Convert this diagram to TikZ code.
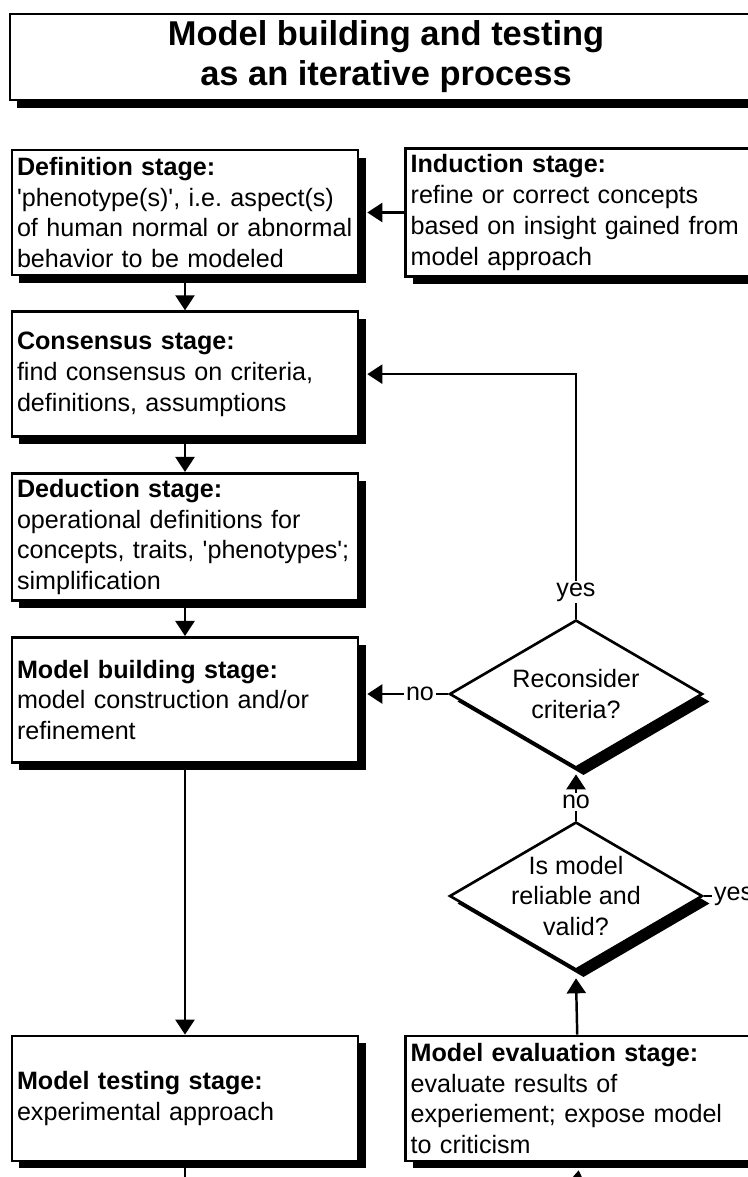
\documentclass[tikz,border=0pt]{standalone}
\usepackage{fontspec}
\setmainfont{Liberation Sans}
\usepackage{tikz}
\usetikzlibrary{arrows.meta,positioning,shapes.geometric,shadows}

\newcommand{\bodyfont}{\fontsize{14.3}{17.5}\selectfont}
\frenchspacing

\begin{document}
\begin{tikzpicture}[
    node distance=0.68cm and 0.9cm,
    castshadow/.style={drop shadow={shadow xshift=0.15cm, shadow yshift=-0.15cm, fill=black, opacity=1}},
    titlebox/.style={rectangle, draw=black, line width=1.5pt, fill=white, castshadow,
                minimum width=15.04cm, minimum height=1.72cm, align=center,
                font=\fontsize{19.6}{22.8}\selectfont\bfseries},
    stagebox/.style={rectangle, draw=black, line width=1.5pt, fill=white, castshadow,
                text width=6.72cm, inner xsep=0.1cm, align=left, minimum height=2.5cm, font=\bodyfont},
    question/.style={diamond, draw=black, line width=1.5pt, fill=white, castshadow, aspect=1.71,
                minimum width=5.06cm, minimum height=2.96cm, inner sep=-0.12cm, align=center, font=\bodyfont},
    answer/.style={inner sep=1pt, font=\bodyfont},
    link/.style={line width=1.4pt},
    arr/.style={-{Triangle[length=0.3cm, width=0.38cm]}, line width=1.4pt}]
\useasboundingbox (0,0) rectangle (14.94,-23.54);
\node[titlebox] (title) at (7.72,-1.14) {Model building and testing\\as an iterative process};
\node[stagebox] (def) at (3.70,-4.25) {\textbf{Definition stage:}\\\textquotesingle phenotype(s)\textquotesingle, i.e. aspect(s)\\of human normal or abnormal\\behavior to be modeled};
\node[stagebox, below=of def] (cons) {\textbf{Consensus stage:}\\find consensus on criteria,\\definitions, assumptions};
\node[stagebox, below=of cons] (ded) {\textbf{Deduction stage:}\\operational definitions for\\concepts, traits, \textquotesingle phenotypes\textquotesingle;\\simplification};
\node[stagebox, below=of ded] (mb) {\textbf{Model building stage:}\\model construction and/or\\refinement};
\node[stagebox, below=5.42cm of mb] (test) {\textbf{Model testing stage:}\\experimental approach};
\node[stagebox, right=of def] (ind) {\textbf{Induction stage:}\\refine or correct concepts\\based on insight gained from\\model approach};
\node[stagebox, right=of test] (eval) {\textbf{Model evaluation stage:}\\evaluate results of\\experiement; expose model\\to criticism};
\node[question] (d1) at (11.52,-13.88) {Reconsider\\criteria?};
\node[question] (d2) at (11.52,-17.92) {Is model\\reliable and\\valid?};
\node[answer] (yes1) at (11.52,-11.84) {yes};
\node[answer] (no1) at (8.40,-13.88) {no};
\node[answer] (no2) at (11.52,-16.04) {no};
\node[answer, anchor=west] (yes2) at (14.24,-17.92) {yes};
% arrow ends sit on the shadow edge
\coordinate (defin) at ([xshift=0.16cm]def.east);
\coordinate (consin) at ([xshift=0.16cm]cons.east);
\coordinate (mbin) at ([xshift=0.16cm]mb.east);
\coordinate (d1in) at ([yshift=-0.1cm]d1.south);
\coordinate (d2in) at ([yshift=-0.14cm]d2.south);
\coordinate (evalin) at ([yshift=-0.16cm]eval.south);
\coordinate (testout) at (3.70,-23.8);
\coordinate (evalsrc) at (11.52,-23.8);
\draw[arr] (def) -- (cons); \draw[arr] (cons) -- (ded); \draw[arr] (ded) -- (mb);
\draw[arr] (mb) -- (test);
\draw[arr] (ind) -- (defin);
\draw[link] (d1) -- (yes1); \draw[arr] (yes1) |- (consin);
\draw[link] (d1) -- (no1); \draw[arr] (no1) -- (no1 -| mbin);
\draw[link] (d2) -- (no2); \draw[arr] (no2) -- (d1in);
\draw[link] (d2) -- (yes2);
\draw[arr] (eval) -- (d2in);
\draw[link] (test) -- (testout);
\draw[arr] (evalsrc) -- (evalin);
\end{tikzpicture}
\end{document}
